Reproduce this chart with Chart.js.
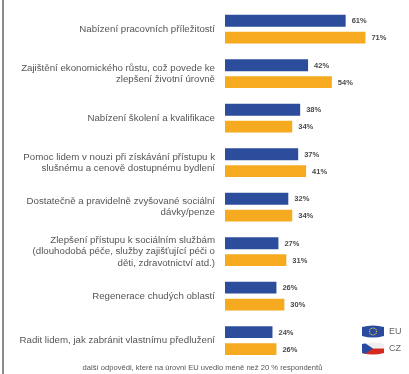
<!DOCTYPE html>
<html>
<head>
<meta charset="utf-8">
<script src="https://cdn.jsdelivr.net/npm/chart.js@4/dist/chart.umd.min.js"></script>
<style>
html,body{margin:0;padding:0;background:#fff;}
canvas{display:block;}
</style>
</head>
<body>
<canvas id="c" width="409" height="374"></canvas>
<script>
const categories = [
  "Nabízení pracovních příležitostí",
  ["Zajištění ekonomického růstu, což povede ke", "zlepšení životní úrovně"],
  "Nabízení školení a kvalifikace",
  ["Pomoc lidem v nouzi při získávání přístupu k", "slušnému a cenově dostupnému bydlení"],
  ["Dostatečně a pravidelně zvyšované sociální", "dávky/penze"],
  ["Zlepšení přístupu k sociálním službám", "(dlouhodobá péče, služby zajišťující péči o", "děti, zdravotnictví atd.)"],
  "Regenerace chudých oblastí",
  "Radit lidem, jak zabránit vlastnímu předlužení"
];
const euValues = [61, 42, 38, 37, 32, 27, 26, 24];
const czValues = [71, 54, 34, 41, 34, 31, 30, 26];
const seriesLabels = ["EU", "CZ"];
const footnote = "další odpovědi, které na úrovni EU uvedlo méně než 20 % respondentů";

const BLUE = "#2c4c9c";
const ORANGE = "#f5aa1f";
const FONT = "'Liberation Sans', Arial, sans-serif";

const framePlugin = {
  id: "frame",
  beforeDraw(chart) {
    const ctx = chart.ctx;
    ctx.save();
    ctx.fillStyle = "#ffffff";
    ctx.fillRect(0, 0, chart.width, chart.height);
    ctx.fillStyle = "#8c8c8c";
    ctx.fillRect(2, 0, 2, chart.height);
    ctx.restore();
  }
};

const valueLabels = {
  id: "valueLabels",
  afterDatasetsDraw(chart) {
    const ctx = chart.ctx;
    ctx.save();
    ctx.font = "bold 7.5px " + FONT;
    ctx.fillStyle = "#4a4a4a";
    ctx.textBaseline = "middle";
    ctx.textAlign = "left";
    chart.data.datasets.forEach((ds, di) => {
      const meta = chart.getDatasetMeta(di);
      meta.data.forEach((el, i) => {
        ctx.fillText(ds.data[i] + "%", el.x + 6, el.y + 0.5);
      });
    });
    ctx.restore();
  }
};

function flagPath(ctx, x, y, w, h) {
  ctx.beginPath();
  ctx.moveTo(x, y + 1);
  ctx.quadraticCurveTo(x + w / 2, y - 2, x + w, y + 1);
  ctx.lineTo(x + w, y + h - 1);
  ctx.quadraticCurveTo(x + w / 2, y + h + 2, x, y + h - 1);
  ctx.closePath();
}
function drawEUFlag(ctx, x, y, w, h) {
  ctx.fillStyle = "#2a4aa0";
  flagPath(ctx, x, y, w, h);
  ctx.fill();
  ctx.fillStyle = "#f2d33a";
  const cx = x + w / 2, cy = y + h / 2, r = h * 0.32;
  for (let k = 0; k < 12; k++) {
    const a = k * Math.PI / 6;
    ctx.fillRect(cx + r * Math.cos(a) - 0.5, cy + r * Math.sin(a) - 0.5, 1, 1);
  }
}
function drawCZFlag(ctx, x, y, w, h) {
  ctx.save();
  flagPath(ctx, x, y, w, h);
  ctx.clip();
  ctx.fillStyle = "#f0f0f0";
  ctx.fillRect(x, y - 2, w, h / 2 + 2);
  ctx.fillStyle = "#d52b1e";
  ctx.fillRect(x, y + h / 2, w, h / 2 + 2);
  ctx.fillStyle = "#2a4aa0";
  ctx.beginPath();
  ctx.moveTo(x, y - 2);
  ctx.lineTo(x + w * 0.5, y + h / 2);
  ctx.lineTo(x, y + h + 2);
  ctx.closePath();
  ctx.fill();
  ctx.restore();
}

const flagLegend = {
  id: "flagLegend",
  afterDraw(chart) {
    const ctx = chart.ctx;
    ctx.save();
    const x = 362, w = 22, h = 11;
    const ys = [326, 343];
    chart.data.datasets.forEach((ds, i) => {
      if (i === 0) drawEUFlag(ctx, x, ys[i], w, h);
      else drawCZFlag(ctx, x, ys[i], w, h);
      ctx.font = "9px " + FONT;
      ctx.fillStyle = "#666";
      ctx.textBaseline = "middle";
      ctx.textAlign = "left";
      ctx.fillText(ds.label, x + w + 5, ys[i] + h / 2 + 0.5);
    });
    ctx.restore();
  }
};

new Chart(document.getElementById("c"), {
  type: "bar",
  data: {
    labels: categories,
    datasets: [
      { label: seriesLabels[0], data: euValues, backgroundColor: BLUE },
      { label: seriesLabels[1], data: czValues, backgroundColor: ORANGE }
    ]
  },
  options: {
    indexAxis: "y",
    responsive: false,
    animation: false,
    devicePixelRatio: 1,
    categoryPercentage: 0.76,
    barPercentage: 0.7,
    layout: { padding: { top: 7, right: 4, left: 0, bottom: 0 } },
    scales: {
      x: { display: false, min: 0, max: 91 },
      y: {
        grid: { display: false, drawTicks: false },
        border: { display: false },
        ticks: {
          padding: 10,
          color: "#555",
          font: { family: FONT, size: 9.7, lineHeight: 1.15 },
          autoSkip: false
        },
        afterFit(scale) {
          scale.width = 225;
          scale.paddingTop = 0;
          scale.paddingBottom = 0;
        }
      }
    },
    plugins: {
      legend: { display: false },
      tooltip: { enabled: false },
      title: {
        display: true,
        position: "bottom",
        text: footnote,
        color: "#555",
        font: { family: FONT, size: 7.6, weight: "normal" },
        padding: { top: 0, bottom: 2 }
      }
    }
  },
  plugins: [framePlugin, valueLabels, flagLegend]
});
</script>
</body>
</html>
